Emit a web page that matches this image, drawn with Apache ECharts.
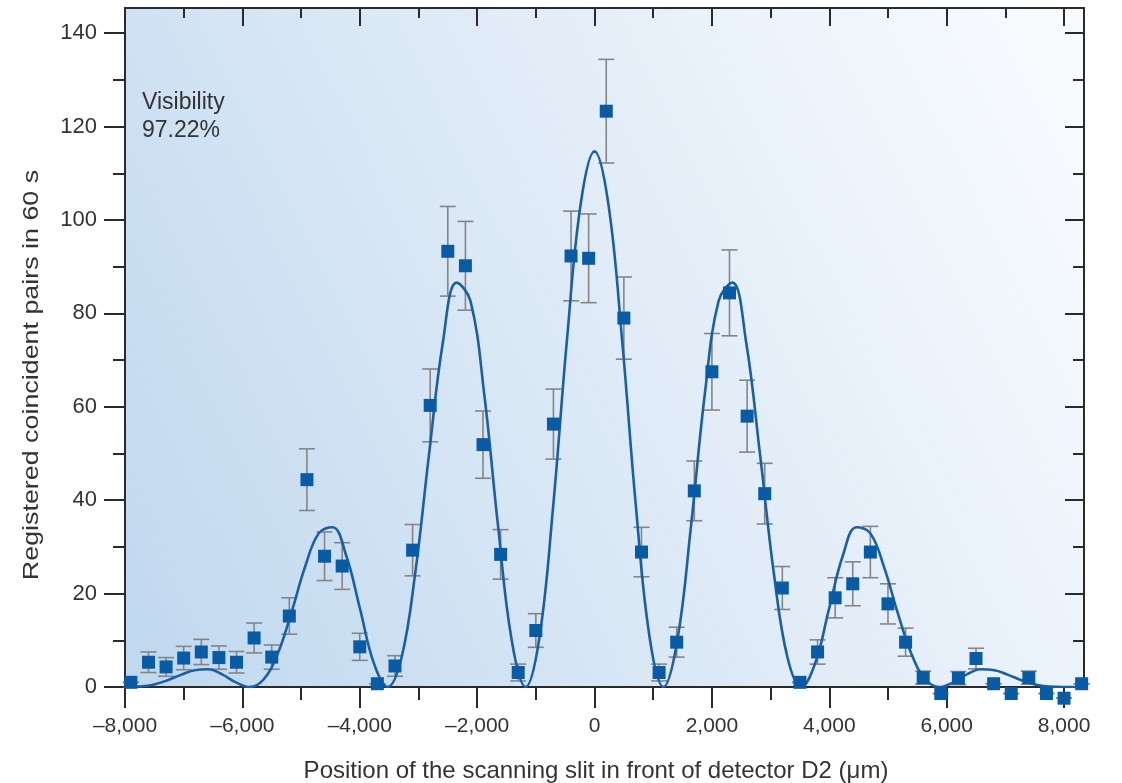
<!DOCTYPE html>
<html><head><meta charset="utf-8">
<script src="https://cdn.jsdelivr.net/npm/echarts@6/dist/echarts.min.js"></script>
<style>html,body{margin:0;padding:0;background:#fff}#c{width:1122px;height:783px}</style>
</head><body><div id="c"></div>
<script>
// ---- data ----
const positions = [-7900,-7600,-7300,-7000,-6700,-6400,-6100,-5800,-5500,-5200,-4900,-4600,-4300,-4000,-3700,-3400,-3100,-2800,-2500,-2200,-1900,-1600,-1300,-1000,-700,-400,-100,200,500,800,1100,1400,1700,2000,2300,2600,2900,3200,3500,3800,4100,4400,4700,5000,5300,5600,5900,6200,6500,6800,7100,7400,7700,8000,8300];
const counts = [1.0,5.3,4.3,6.2,7.5,6.3,5.3,10.5,6.4,15.2,44.4,28.0,25.9,8.6,0.7,4.5,29.3,60.3,93.3,90.2,51.9,28.4,3.1,12.1,56.3,92.3,91.8,123.3,79.0,28.9,3.1,9.6,42.0,67.5,84.4,58.0,41.4,21.2,1.0,7.5,19.1,22.1,28.9,17.8,9.6,2.0,-1.4,1.9,6.1,0.7,-1.4,2.0,-1.4,-2.4,0.7];
const countErrors = [0,2.2,2.0,2.5,2.7,2.5,2.3,3.2,2.6,3.9,6.6,5.2,5.0,2.9,0,2.2,5.5,7.8,9.6,9.5,7.2,5.3,1.8,3.6,7.5,9.6,9.5,11.1,8.8,5.3,1.8,3.2,6.4,8.2,9.2,7.7,6.5,4.6,0,2.6,4.3,4.7,5.5,4.3,3.0,1.4,0,1.4,2.2,0,0,1.4,0,0,0];
const fitX = [-8225,-7990,-7755,-7520,-7285,-7050,-6815,-6580,-6345,-6110,-5875,-5640,-5405,-5170,-4935,-4700,-4465,-4230,-3995,-3760,-3525,-3290,-3055,-2820,-2585,-2350,-2115,-1880,-1645,-1410,-1175,-940,-705,-470,-235,0,235,470,705,940,1175,1410,1645,1880,2115,2350,2585,2820,3055,3290,3525,3760,3995,4230,4465,4700,4935,5170,5405,5640,5875,6110,6345,6580,6815,7050,7285,7520,7755,7990,8225,8460];
const fitY = [0,0,0.1,0.5,1.4,2.6,3.6,3.8,2.7,1.0,0,1.6,6.9,15.7,25.6,32.9,34.2,28.1,16.7,5.1,0,6.2,24.4,49.8,73.7,86.6,82.7,62.8,34.6,9.9,0,10.5,38.7,74.3,103.5,114.7,103.5,74.3,38.7,10.5,0,9.9,34.6,62.8,82.7,86.6,73.7,49.8,24.4,6.2,0,5.1,16.7,28.1,34.2,32.9,25.6,15.7,6.9,1.6,0,1.0,2.7,3.8,3.6,2.6,1.4,0.5,0.1,0,0,0];
const xMajorTicks = [-8000,-6000,-4000,-2000,0,2000,4000,6000,8000];
const xMinorTicks = [-7000,-5000,-3000,-1000,1000,3000,5000,7000];
const yMajorTicks = [0,20,40,60,80,100,120,140];
const yMinorTicks = [10,30,50,70,90,110,130];
const xTitle = 'Position of the scanning slit in front of detector D2 (\u03bcm)';
const yTitle = 'Registered coincident pairs in 60 s';
const annotationLines = ['Visibility', '97.22%'];

// ---- chart ----
const FONT = '"Liberation Sans", Arial, Helvetica, sans-serif';
const AX = '#2a2a2a';
const TXT = '#333333';
const X_MIN = -8000, X_MAX = 8340, Y_MIN = 0, Y_MAX = 145.4;

function fmtX(v) {
  const a = String(Math.abs(v)).replace(/\B(?=(\d{3})+(?!\d))/g, ',');
  return v < 0 ? '\u2013' + a : a;
}

function xAx(pos, ticks, len, inside, line, labels) {
  return {
    type: 'value', min: X_MIN, max: X_MAX, position: pos,
    axisLine: { show: line, onZero: false, lineStyle: { color: AX, width: 2 } },
    axisTick: { show: true, inside: inside, length: len, customValues: ticks, lineStyle: { color: AX, width: 2 } },
    axisLabel: labels ? { show: true, customValues: ticks, formatter: fmtX, margin: 29, fontSize: 21, color: TXT, fontFamily: FONT } : { show: false },
    splitLine: { show: false }
  };
}
function yAx(pos, ticks, len, inside, line, labels) {
  return {
    type: 'value', min: Y_MIN, max: Y_MAX, position: pos,
    axisLine: { show: line, onZero: false, lineStyle: { color: AX, width: 2 } },
    axisTick: { show: true, inside: inside, length: len, customValues: ticks, lineStyle: { color: AX, width: 2 } },
    axisLabel: labels ? { show: true, customValues: ticks, margin: 28, fontSize: 22, color: TXT, fontFamily: FONT } : { show: false },
    splitLine: { show: false }
  };
}

const chart = echarts.init(document.getElementById('c'), null, { renderer: 'canvas' });
chart.setOption({
  animation: false,
  backgroundColor: '#ffffff',
  grid: {
    left: 125, right: 38, top: 8, bottom: 96, show: true, borderWidth: 0,
    backgroundColor: {
      type: 'linear', x: 0, y: 0.85, x2: 1, y2: 0.15,
      colorStops: [
        { offset: 0, color: '#c1d9ef' },
        { offset: 0.45, color: '#dce9f6' },
        { offset: 1, color: '#f8fbfe' }
      ]
    }
  },
  xAxis: [
    xAx('bottom', xMajorTicks, 21, false, true, true),
    xAx('bottom', xMinorTicks, 13, false, false, false),
    xAx('top', xMajorTicks, 18, true, true, false),
    xAx('top', xMinorTicks, 10, true, false, false)
  ],
  yAxis: [
    yAx('left', yMajorTicks, 21, false, true, true),
    yAx('left', yMinorTicks, 12, false, false, false),
    yAx('right', yMajorTicks, 19, true, true, false),
    yAx('right', yMinorTicks, 11, true, false, false)
  ],
  graphic: [
    { type: 'text', left: 142, top: 89, z: 10,
      style: { text: annotationLines.join('\n'), font: '23px ' + FONT, fill: TXT, lineHeight: 28 } },
    { type: 'text', x: 596, y: 771, z: 10,
      style: { text: xTitle, font: '24px ' + FONT, fill: TXT, textAlign: 'center', textVerticalAlign: 'middle' } },
    { type: 'text', x: 32, y: 375, rotation: Math.PI / 2, scaleX: 1.22, z: 10,
      style: { text: yTitle, font: '22px ' + FONT, fill: TXT, textAlign: 'center', textVerticalAlign: 'middle' } }
  ],
  series: [
    {
      type: 'custom', xAxisIndex: 0, yAxisIndex: 0, clip: false, z: 2,
      data: positions.map((x, i) => [x, counts[i] - countErrors[i], counts[i] + countErrors[i]]),
      encode: { x: 0, y: [1, 2] },
      renderItem: function (params, api) {
        const x = api.value(0);
        const lo = api.coord([x, api.value(1)]);
        const hi = api.coord([x, api.value(2)]);
        const w = 8;
        const st = { stroke: '#858585', lineWidth: 1.6 };
        return { type: 'group', children: [
          { type: 'line', shape: { x1: lo[0], y1: lo[1], x2: hi[0], y2: hi[1] }, style: st },
          { type: 'line', shape: { x1: hi[0] - w, y1: hi[1], x2: hi[0] + w, y2: hi[1] }, style: st },
          { type: 'line', shape: { x1: lo[0] - w, y1: lo[1], x2: lo[0] + w, y2: lo[1] }, style: st }
        ] };
      }
    },
    {
      type: 'line', xAxisIndex: 0, yAxisIndex: 0, z: 3,
      data: fitX.map((x, i) => [x, fitY[i]]),
      showSymbol: false, smooth: 0.4,
      lineStyle: { color: '#1a5fa6', width: 2.6 }
    },
    {
      type: 'scatter', xAxisIndex: 0, yAxisIndex: 0, z: 4, clip: false,
      data: positions.map((x, i) => [x, counts[i]]),
      symbol: 'rect', symbolSize: 13,
      itemStyle: { color: '#0a5ba6', opacity: 1 }
    }
  ]
});
</script>
</body></html>
